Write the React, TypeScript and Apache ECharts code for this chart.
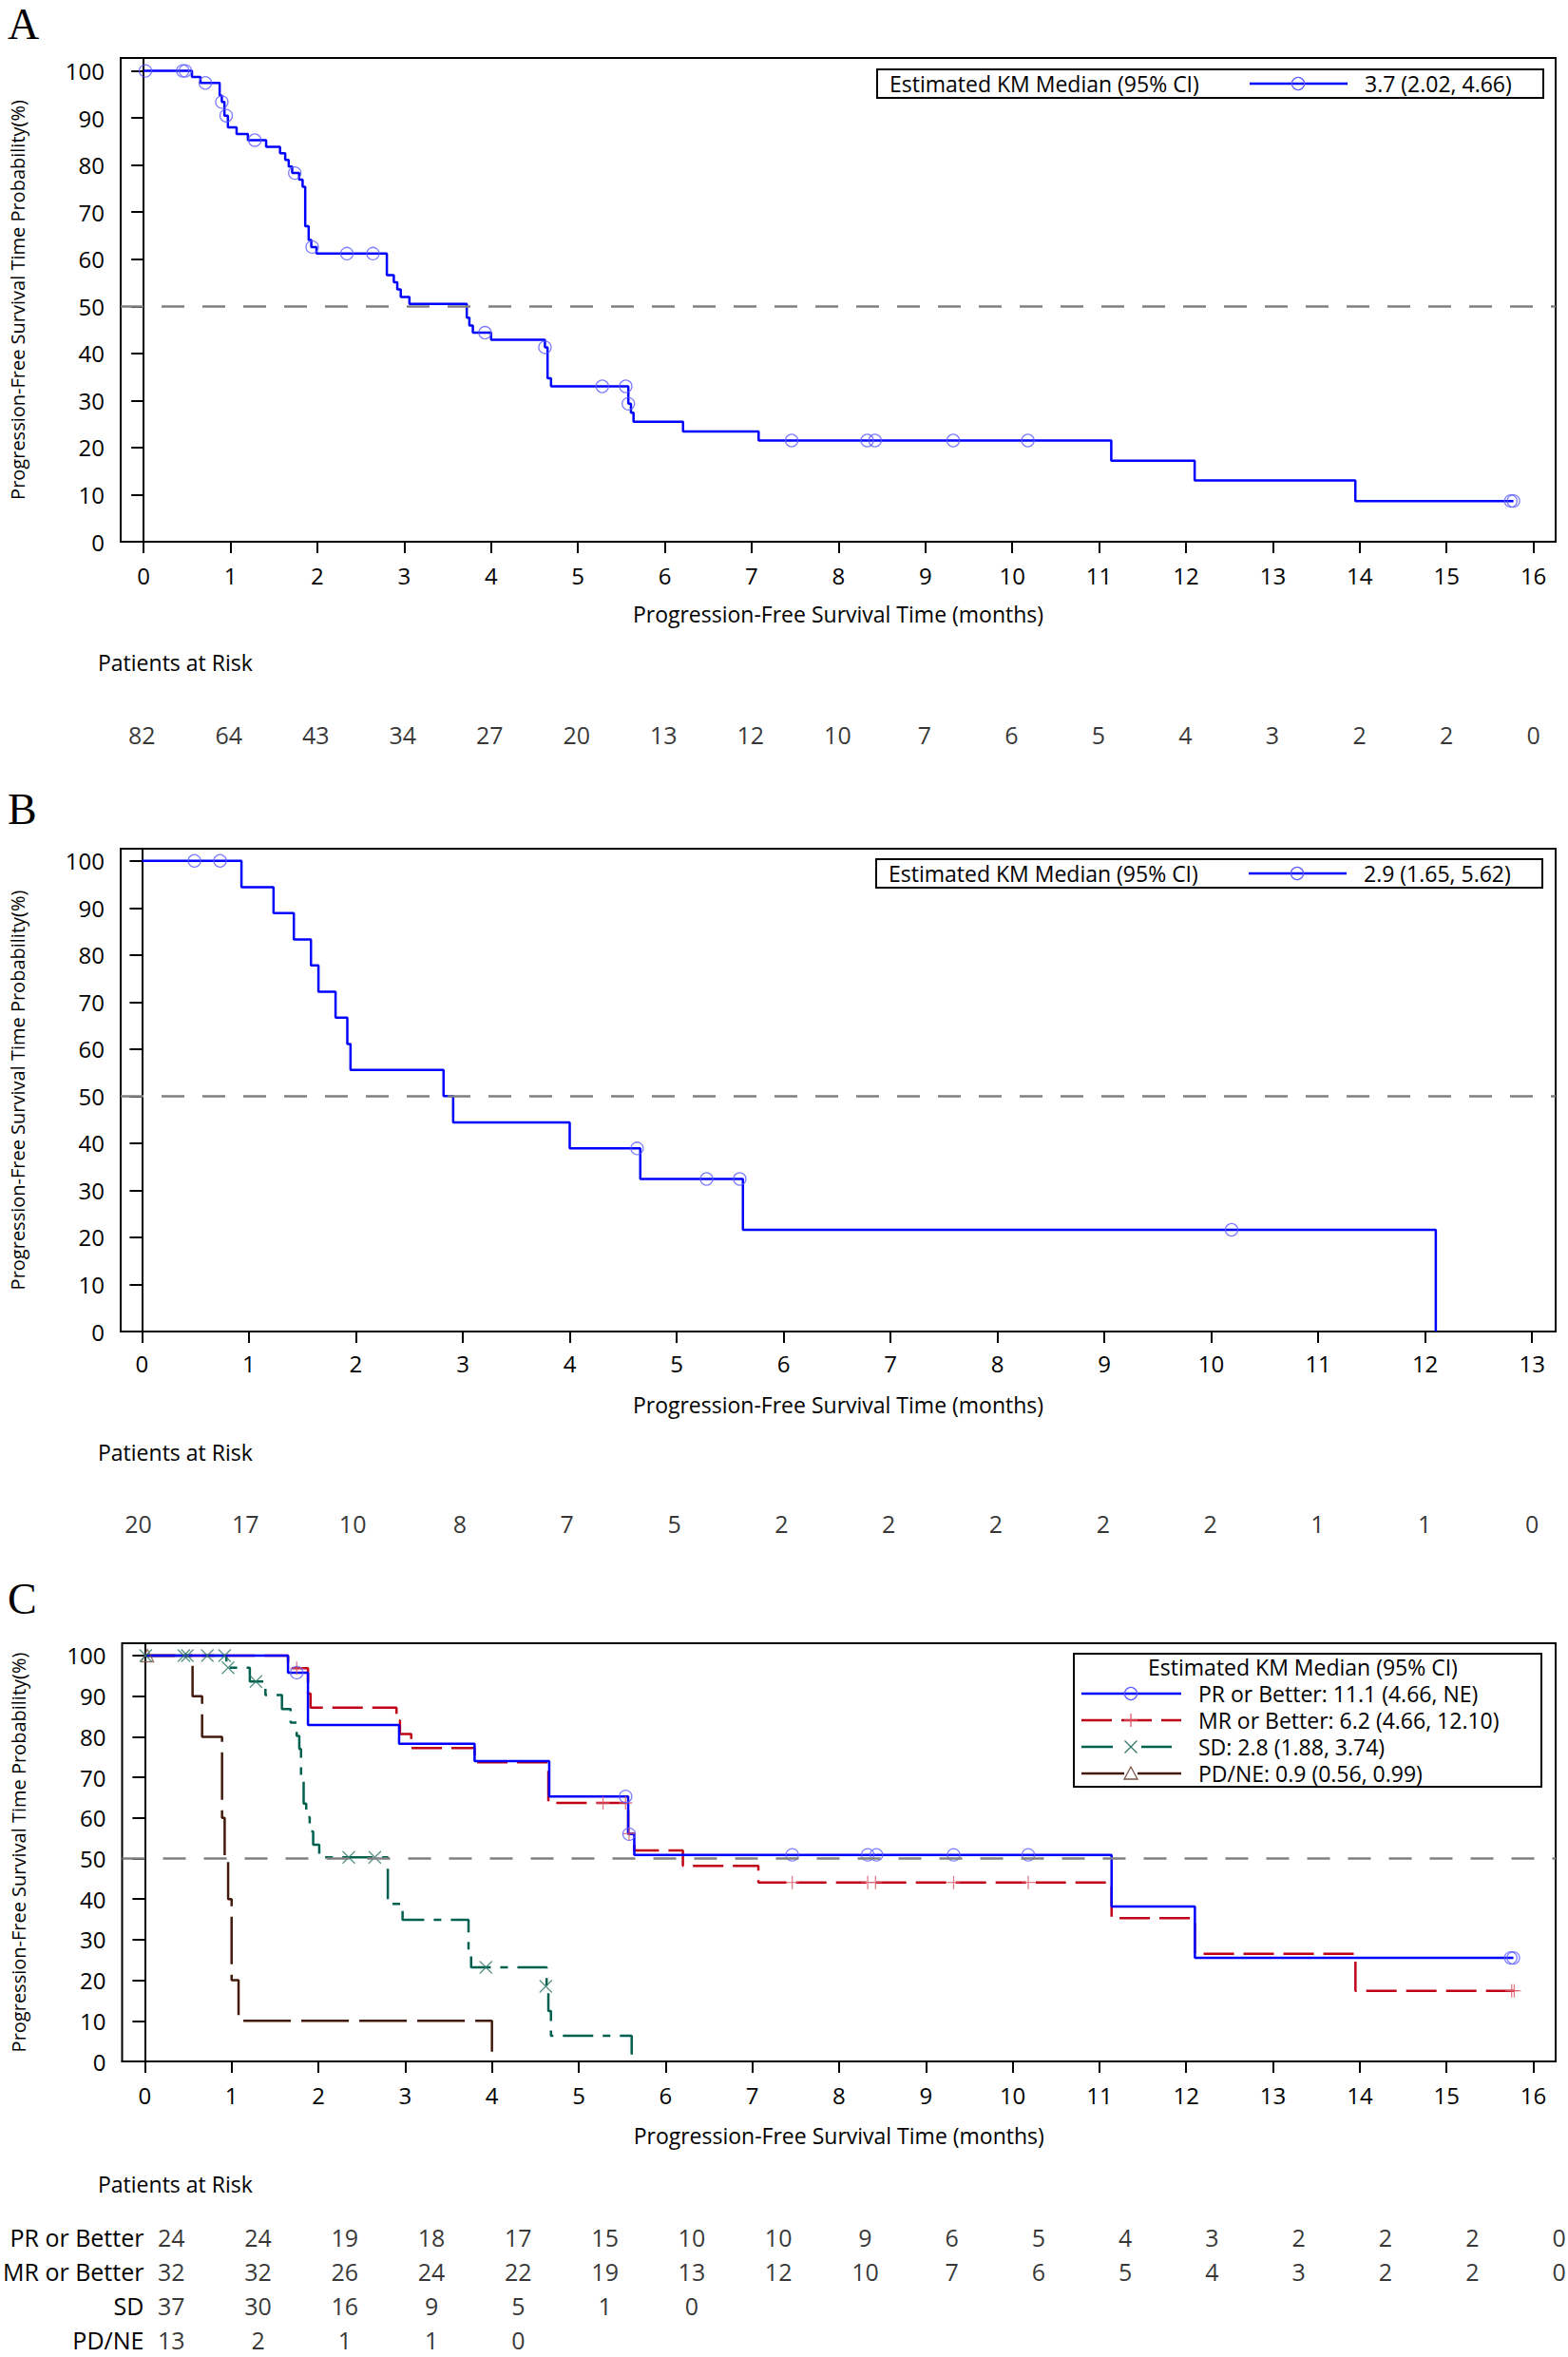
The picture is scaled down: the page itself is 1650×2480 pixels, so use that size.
import { useEffect, useRef } from "react";
import * as echarts from "echarts";

const FONT = "'Open Sans', 'Noto Sans', sans-serif";
const SERIF = "'Liberation Serif', 'DejaVu Serif', serif";

// ---------- shared ticks / titles ----------
const yTickValues = [0, 10, 20, 30, 40, 50, 60, 70, 80, 90, 100];
const monthTicks16 = [0, 1, 2, 3, 4, 5, 6, 7, 8, 9, 10, 11, 12, 13, 14, 15, 16];
const monthTicks13 = [0, 1, 2, 3, 4, 5, 6, 7, 8, 9, 10, 11, 12, 13];
const xTitle = "Progression-Free Survival Time (months)";
const yTitle = "Progression-Free Survival Time Probability(%)";
const riskHeader = "Patients at Risk";
const legendTitle = "Estimated KM Median (95% CI)";

// ---------- Panel A ----------
const aCurve = [
  [0, 100], [0.556, 98.7], [0.654, 97.45], [0.875, 94.8], [0.9, 93.4], [0.93, 90.5],
  [0.97, 88.0], [1.07, 86.6], [1.2, 85.3], [1.41, 83.9], [1.57, 82.5], [1.63, 81.1],
  [1.67, 79.7], [1.71, 78.3], [1.79, 76.9], [1.83, 75.4], [1.86, 67.0], [1.9, 64.1],
  [1.93, 62.6], [1.99, 61.2], [2.8, 56.6], [2.88, 55.1], [2.92, 53.6], [2.96, 52.0],
  [3.06, 50.5], [3.72, 47.6], [3.75, 45.9], [3.79, 44.4], [4.0, 42.9], [4.62, 41.3],
  [4.65, 34.7], [4.69, 33.0], [5.58, 29.3], [5.61, 27.4], [5.64, 25.5], [6.21, 23.4],
  [7.08, 21.5], [11.14, 17.2], [12.1, 13.0], [13.95, 8.65], [15.77, 8.65],
];
const aCensored = [
  [0.02, 100], [0.45, 100], [0.48, 100], [0.71, 97.45], [0.9, 93.4], [0.95, 90.5],
  [1.28, 85.3], [1.74, 78.3], [1.94, 62.6], [2.34, 61.2], [2.64, 61.2], [3.93, 44.4],
  [4.62, 41.3], [5.28, 33.0], [5.55, 33.0], [5.58, 29.3], [7.46, 21.5], [8.33, 21.5],
  [8.42, 21.5], [9.32, 21.5], [10.18, 21.5], [15.74, 8.65], [15.77, 8.65],
];
const aAtRisk = [82, 64, 43, 34, 27, 20, 13, 12, 10, 7, 6, 5, 4, 3, 2, 2, 0];
const aMedian = "3.7 (2.02, 4.66)";

// ---------- Panel B ----------
const bCurve = [
  [0, 100], [0.93, 94.4], [1.23, 88.9], [1.42, 83.3], [1.58, 77.8], [1.65, 72.2],
  [1.81, 66.7], [1.92, 61.1], [1.95, 55.6], [2.82, 50.0], [2.91, 44.4], [4.0, 38.9],
  [4.66, 32.4], [5.62, 21.6], [12.1, 0],
];
const bCensored = [[0.49, 100], [0.73, 100], [4.63, 38.9], [5.28, 32.4], [5.59, 32.4], [10.19, 21.6]];
const bAtRisk = [20, 17, 10, 8, 7, 5, 2, 2, 2, 2, 2, 1, 1, 0];
const bMedian = "2.9 (1.65, 5.62)";

// ---------- Panel C ----------
const cGroups = ["PR or Better", "MR or Better", "SD", "PD/NE"];
const cLegendLabels = [
  "PR or Better: 11.1 (4.66, NE)",
  "MR or Better: 6.2 (4.66, 12.10)",
  "SD: 2.8 (1.88, 3.74)",
  "PD/NE: 0.9 (0.56, 0.99)",
];
const cPrCurve = [
  [0, 100], [1.65, 95.8], [1.88, 82.9], [2.93, 78.3], [3.8, 74.0], [4.66, 65.3],
  [5.57, 56.0], [5.64, 50.9], [11.14, 38.2], [12.1, 25.5], [15.77, 25.5],
];
const cPrCensored = [
  [1.75, 95.8], [5.54, 65.3], [5.58, 56.0], [7.46, 50.9], [8.33, 50.9], [8.43, 50.9],
  [9.32, 50.9], [10.18, 50.9], [15.74, 25.5], [15.77, 25.5],
];
const cMrCurve = [
  [0, 100], [1.65, 96.9], [1.88, 90.6], [1.91, 87.2], [2.9, 84.0], [2.94, 80.7],
  [3.07, 77.2], [3.8, 73.7], [4.65, 63.7], [5.57, 56.1], [5.64, 52.0], [6.2, 48.2],
  [7.07, 44.1], [11.14, 35.3], [12.1, 26.5], [13.95, 17.4], [15.78, 17.4],
];
const cMrCensored = [
  [1.75, 96.9], [5.28, 63.7], [5.54, 63.7], [5.58, 56.1], [7.46, 44.1], [8.33, 44.1],
  [8.42, 44.1], [9.32, 44.1], [10.18, 44.1], [15.75, 17.4], [15.78, 17.4],
];
const cSdCurve = [
  [0, 100], [0.94, 97.0], [1.21, 93.6], [1.39, 90.3], [1.58, 86.8], [1.68, 83.5],
  [1.75, 80.2], [1.78, 77.0], [1.8, 70.0], [1.83, 63.5], [1.86, 60.2], [1.9, 56.7],
  [1.94, 53.4], [2.01, 50.3], [2.8, 38.8], [2.97, 34.9], [3.73, 26.5], [3.76, 23.2],
  [4.63, 18.5], [4.65, 12.4], [4.68, 6.3], [5.61, 0],
];
const cSdCensored = [
  [0.01, 100], [0.45, 100], [0.49, 100], [0.72, 100], [0.92, 100], [0.96, 97.0],
  [1.28, 93.6], [2.35, 50.3], [2.65, 50.3], [3.93, 23.2], [4.62, 18.5],
];
const cPdCurve = [
  [0, 100], [0.55, 90], [0.66, 80], [0.89, 60], [0.92, 50], [0.96, 40], [1.0, 20],
  [1.08, 10], [4.0, 0],
];
const cPdCensored = [[0.03, 100]];
const cAtRiskPr = [24, 24, 19, 18, 17, 15, 10, 10, 9, 6, 5, 4, 3, 2, 2, 2, 0];
const cAtRiskMr = [32, 32, 26, 24, 22, 19, 13, 12, 10, 7, 6, 5, 4, 3, 2, 2, 0];
const cAtRiskSd = [37, 30, 16, 9, 5, 1, 0];
const cAtRiskPd = [13, 2, 1, 1, 0];

// ---------- styles ----------
const BLUE = "#0000ff";
const BLUE_MK = "#5a5aff";
const RED = "#bf0016";
const RED_MK = "#dd5a6a";
const TEAL = "#00604f";
const TEAL_MK = "#2f7868";
const BROWN = "#431a0c";
const BROWN_MK = "#7a5444";
const PLUS = "path://M0,-6L0,6M-6,0L6,0";
const CROSS = "path://M-6,-6L6,6M-6,6L6,-6";

const TICK_FS = 24;
const TITLE_FS = 23;
const YTITLE_FS = 20;
const RISK_FS = 25;
const LEG_FS = 23;

function buildOption() {
  const grid: any[] = [];
  const xAxis: any[] = [];
  const yAxis: any[] = [];
  const series: any[] = [];
  const graphic: any[] = [];

  const panels = [
    { letter: "A", frame: { left: 125, top: 61, width: 1512, height: 509 }, xMin: -0.2644, xMax: 16.256, yMax: 102.75,
      ticks: monthTicks16, labelMargin: 23, nameGap: 64.5, risk: { top: 758, height: 30 },
      headerY: 697, letterY: 25 },
    { letter: "B", frame: { left: 123, top: 893, width: 1514, height: 508 }, xMin: -0.1995, xMax: 13.221, yMax: 102.57,
      ticks: monthTicks13, labelMargin: 21, nameGap: 65, risk: { top: 1588, height: 30 },
      headerY: 1528, letterY: 851 },
    { letter: "C", frame: { left: 128.5, top: 1729, width: 1508.5, height: 440 }, xMin: -0.2617, xMax: 16.257, yMax: 103.04,
      ticks: monthTicks16, labelMargin: 23, nameGap: 66.5, risk: { top: 2336, height: 152 },
      headerY: 2298, letterY: 1682 },
  ];

  const axisLine = { show: true, lineStyle: { color: "#000", width: 2 } };
  const txt = (text: string, x: number, y: number, size: number, align = "left", font = FONT) => ({
    type: "text", x, y, z: 20,
    style: { text, fontSize: size, fontFamily: font, fill: "#000", align, verticalAlign: "middle" },
  });

  panels.forEach((p, i) => {
    const pg = i * 2;
    const rg = i * 2 + 1;
    grid.push({ ...p.frame, show: true, borderColor: "#000", borderWidth: 2, backgroundColor: "transparent" });
    grid.push({ left: p.frame.left, width: p.frame.width, top: p.risk.top, height: p.risk.height, show: false });
    xAxis.push({
      gridIndex: pg, type: "value", min: p.xMin, max: p.xMax, axisLine,
      axisTick: { show: true, inside: false, length: 12, lineStyle: { color: "#000", width: 2 }, customValues: p.ticks },
      axisLabel: { show: true, customValues: p.ticks, margin: p.labelMargin, fontSize: TICK_FS, color: "#000", fontFamily: FONT },
      splitLine: { show: false },
      name: xTitle, nameLocation: "middle", nameGap: p.nameGap,
      nameTextStyle: { fontSize: TITLE_FS, color: "#000", fontFamily: FONT },
    });
    yAxis.push({
      gridIndex: pg, type: "value", min: 0, max: p.yMax, axisLine,
      axisTick: { show: true, inside: false, length: 13, lineStyle: { color: "#000", width: 2 }, customValues: yTickValues },
      axisLabel: { show: true, customValues: yTickValues, margin: 17, fontSize: TICK_FS, color: "#000", fontFamily: FONT },
      splitLine: { show: false },
      name: yTitle, nameLocation: "middle", nameGap: 99,
      nameTextStyle: { fontSize: YTITLE_FS, color: "#000", fontFamily: FONT },
    });
    xAxis.push({ gridIndex: rg, type: "value", min: p.xMin, max: p.xMax, show: false });
    const rows = p.letter === "C" ? cGroups : ["all"];
    yAxis.push({
      gridIndex: rg, type: "category", data: rows, inverse: true,
      offset: p.letter === "C" ? -22 : 0,
      axisLine: { show: false }, axisTick: { show: false }, splitLine: { show: false },
      axisLabel: { show: p.letter === "C", margin: 0, fontSize: RISK_FS, color: "#000", fontFamily: FONT },
    });
    // reference line at 50%
    series.push({
      type: "line", xAxisIndex: pg, yAxisIndex: pg, data: [[0, 50]], symbol: "none", silent: true, z: 1,
      lineStyle: { width: 0 },
      markLine: {
        silent: true, symbol: ["none", "none"], label: { show: false },
        lineStyle: { color: "#808080", width: 2.5, type: [24, 19] }, data: [{ yAxis: 50 }],
      },
    });
    graphic.push(txt(p.letter, 8, p.letterY, 46, "left", SERIF));
    graphic.push(txt(riskHeader, 103, p.headerY, TITLE_FS));
  });

  const curve = (g: number, data: any, color: string, dash: any) => ({
    type: "line", xAxisIndex: g, yAxisIndex: g, data, step: "end", symbol: "none", silent: true, z: 3,
    lineStyle: { color, width: 2.5, type: dash },
  });
  const marks = (g: number, data: any, symbol: string, size: number, color: string) => ({
    type: "scatter", xAxisIndex: g, yAxisIndex: g, data, symbol, symbolSize: size, silent: true, z: 4,
    itemStyle: { color: "transparent", borderColor: color, borderWidth: 1.3 },
  });
  const riskRow = (g: number, ticks: number[], counts: number[], row: string, offset: number) => ({
    type: "scatter", xAxisIndex: g, yAxisIndex: g, silent: true, symbolSize: 1,
    data: counts.map((n, k) => [ticks[k], row, n]),
    itemStyle: { color: "rgba(0,0,0,0)" },
    label: {
      show: true, position: "inside", offset: [offset, 0], fontSize: RISK_FS, color: "#000", fontFamily: FONT,
      formatter: (q: any) => String(q.value[2]),
    },
  });

  // Panel A
  series.push(curve(0, aCurve, BLUE, "solid"));
  series.push(marks(0, aCensored, "circle", 13, BLUE_MK));
  series.push(riskRow(1, monthTicks16, aAtRisk, "all", 0));
  // Panel B
  series.push(curve(2, bCurve, BLUE, "solid"));
  series.push(marks(2, bCensored, "circle", 13, BLUE_MK));
  series.push(riskRow(3, monthTicks13, bAtRisk, "all", 0));
  // Panel C
  series.push(curve(4, cPdCurve, BROWN, [50, 11]));
  series.push(curve(4, cSdCurve, TEAL, [32, 10, 8, 10]));
  series.push(curve(4, cMrCurve, RED, [32, 10]));
  series.push(curve(4, cPrCurve, BLUE, "solid"));
  series.push(marks(4, cPdCensored, "triangle", 13, BROWN_MK));
  series.push(marks(4, cSdCensored, CROSS, 13, TEAL_MK));
  series.push(marks(4, cMrCensored, PLUS, 14, RED_MK));
  series.push(marks(4, cPrCensored, "circle", 13, BLUE_MK));
  series.push(riskRow(5, monthTicks16, cAtRiskPr, cGroups[0], 27));
  series.push(riskRow(5, monthTicks16, cAtRiskMr, cGroups[1], 27));
  series.push(riskRow(5, monthTicks16, cAtRiskSd, cGroups[2], 27));
  series.push(riskRow(5, monthTicks16, cAtRiskPd, cGroups[3], 27));

  // ---------- legends (drawn with graphic) ----------
  const box = (x: number, y: number, w: number, h: number) => ({
    type: "rect", z: 15, shape: { x, y, width: w, height: h },
    style: { fill: "#fff", stroke: "#000", lineWidth: 2 },
  });
  const seg = (x1: number, x2: number, y: number, color: string, dash: any) => ({
    type: "line", z: 16, shape: { x1, y1: y, x2, y2: y },
    style: { stroke: color, lineWidth: 2.5, lineDash: dash },
  });
  const circ = (cx: number, cy: number, color: string) => ({
    type: "circle", z: 17, shape: { cx, cy, r: 6.5 }, style: { fill: "none", stroke: color, lineWidth: 1.3 },
  });
  const plus = (cx: number, cy: number, color: string) => ([
    { type: "line", z: 17, shape: { x1: cx, y1: cy - 7, x2: cx, y2: cy + 7 }, style: { stroke: color, lineWidth: 1.3 } },
    { type: "line", z: 17, shape: { x1: cx - 7, y1: cy, x2: cx + 7, y2: cy }, style: { stroke: color, lineWidth: 1.3 } },
  ]);
  const cross = (cx: number, cy: number, color: string) => ([
    { type: "line", z: 17, shape: { x1: cx - 6.5, y1: cy - 6.5, x2: cx + 6.5, y2: cy + 6.5 }, style: { stroke: color, lineWidth: 1.3 } },
    { type: "line", z: 17, shape: { x1: cx - 6.5, y1: cy + 6.5, x2: cx + 6.5, y2: cy - 6.5 }, style: { stroke: color, lineWidth: 1.3 } },
  ]);
  const tri = (cx: number, cy: number, color: string) => ({
    type: "polygon", z: 17, shape: { points: [[cx, cy - 7], [cx - 7, cy + 6], [cx + 7, cy + 6]] },
    style: { fill: "#fff", stroke: color, lineWidth: 1.3 },
  });

  // A legend
  graphic.push(box(923, 73, 701, 30));
  graphic.push(txt(legendTitle, 936, 88, LEG_FS));
  graphic.push(seg(1315, 1418, 88, BLUE, null));
  graphic.push(circ(1366, 88, BLUE_MK));
  graphic.push(txt(aMedian, 1436, 88, LEG_FS));
  // B legend
  graphic.push(box(922, 904, 701, 30));
  graphic.push(txt(legendTitle, 935, 919, LEG_FS));
  graphic.push(seg(1314, 1417, 919, BLUE, null));
  graphic.push(circ(1365, 919, BLUE_MK));
  graphic.push(txt(bMedian, 1435, 919, LEG_FS));
  // C legend
  graphic.push(box(1130, 1740, 492, 140));
  graphic.push(txt(legendTitle, 1371, 1754, LEG_FS, "center"));
  const rowsY = [1782, 1810, 1838, 1866];
  graphic.push(seg(1138, 1243, rowsY[0], BLUE, null));
  graphic.push(circ(1190, rowsY[0], BLUE_MK));
  graphic.push(seg(1138, 1243, rowsY[1], RED, [32, 10]));
  graphic.push(...plus(1190, rowsY[1], RED_MK));
  graphic.push(seg(1138, 1171, rowsY[2], TEAL, null));
  graphic.push(seg(1201, 1233, rowsY[2], TEAL, null));
  graphic.push(...cross(1190, rowsY[2], TEAL_MK));
  graphic.push(seg(1138, 1183, rowsY[3], BROWN, null));
  graphic.push(seg(1197, 1243, rowsY[3], BROWN, null));
  graphic.push(tri(1190, rowsY[3], BROWN_MK));
  cLegendLabels.forEach((t, k) => graphic.push(txt(t, 1261, rowsY[k], LEG_FS)));

  return {
    animation: false,
    backgroundColor: "#fff",
    textStyle: { fontFamily: FONT },
    grid, xAxis, yAxis, series, graphic,
  };
}

export default function App() {
  const ref = useRef<HTMLDivElement>(null);
  useEffect(() => {
    if (!ref.current) return;
    const chart = echarts.init(ref.current, null, { renderer: "svg" });
    chart.setOption(buildOption() as any);
    return () => chart.dispose();
  }, []);
  return (
    <div
      ref={ref}
      style={{ position: "absolute", left: 0, top: 0, width: 1650, height: 2480, background: "#fff" }}
    />
  );
}
